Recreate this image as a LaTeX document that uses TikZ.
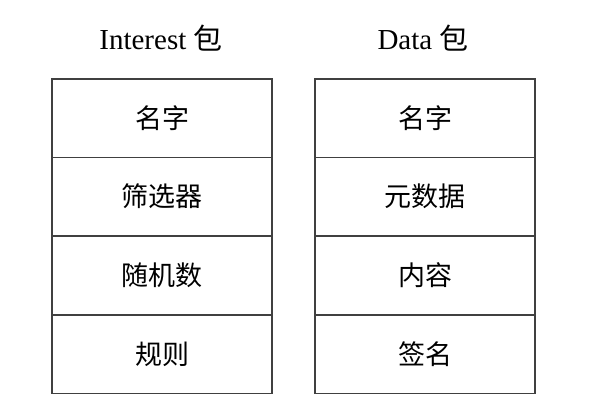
\documentclass[tikz,border=0pt]{standalone}
\usepackage{fontspec}
\setmainfont{Liberation Serif}
\newfontfamily\cjk{Noto Sans CJK SC}
\usepackage{tikz}
\usetikzlibrary{positioning}

\tikzset{
  cell/.style={draw=black!75,line width=1.5pt,minimum width=220pt,minimum height=78.5pt,
    inner sep=0pt,outer sep=0pt,font=\cjk\fontsize{27}{32}\selectfont},
  title/.style={font=\fontsize{29}{35}\selectfont}
}

\begin{document}
\begin{tikzpicture}[x=1pt,y=-1pt]
    \useasboundingbox (0,0) rectangle (596,412);
    % Interest packet
    \node[title] (intitle) at (161,38) {Interest {\cjk 包}};
    \node[cell] (inname) at (162,118) {名字};
    \node[cell] (infilter) at (162,196.5) {筛选器};
    \node[cell] (innonce) at (162,275.5) {随机数};
    \node[cell] (inrule) at (162,354) {规则};
    % Data packet
    \node[title] (datatitle) at (423,38) {Data {\cjk 包}};
    \node[cell] (dataname) at (425,118) {名字};
    \node[cell] (datameta) at (425,196.5) {元数据};
    \node[cell] (datacontent) at (425,275.5) {内容};
    \node[cell] (datasig) at (425,354) {签名};
\end{tikzpicture}
\end{document}
